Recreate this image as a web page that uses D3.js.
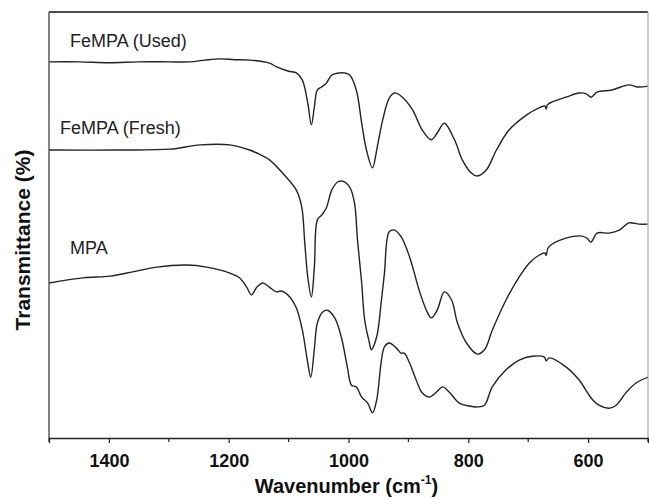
<!DOCTYPE html>
<html>
<head>
<meta charset="utf-8">
<script src="https://cdn.jsdelivr.net/npm/d3@7"></script>
<style>
body { margin: 0; background: #fff; }
svg { display: block; font-family: "Liberation Sans", Arial, sans-serif; }
</style>
</head>
<body>
<svg id="chart" width="649" height="500"></svg>
<script>
var width = 649;
var height = 500;

// spectra (wavenumber, transmittance in arbitrary %)
var usedWave = [1500, 1450, 1400, 1350, 1300, 1265, 1240, 1215, 1190, 1165, 1132, 1120, 1100, 1087, 1077, 1068, 1062, 1057, 1052, 1045, 1037, 1028, 1015, 1007, 998, 987, 978, 970, 960, 952, 943, 932, 923, 910, 893, 877, 862, 852, 840, 823, 810, 795, 785, 770, 753, 732, 703, 682, 672, 670, 668, 660, 637, 615, 603, 595, 585, 560, 532, 518, 500];
var usedT = [88.3, 88.3, 88.1, 88.3, 88.3, 88.3, 88.7, 89.0, 88.8, 88.7, 88.0, 87.1, 86.1, 85.7, 84.0, 78.6, 73.5, 77.7, 81.7, 82.4, 83.3, 85.2, 85.7, 85.7, 85.2, 81.7, 73.9, 67.6, 63.4, 68.3, 74.6, 79.8, 81.0, 80.0, 77.0, 72.3, 70.0, 71.6, 73.9, 70.0, 65.3, 62.2, 61.5, 62.9, 67.6, 72.3, 75.8, 77.5, 77.9, 77.2, 78.2, 78.9, 80.0, 81.0, 80.8, 80.0, 81.2, 81.7, 82.9, 82.4, 82.6];

var freshWave = [1500, 1382, 1298, 1248, 1198, 1165, 1153, 1132, 1110, 1087, 1078, 1073, 1068, 1062, 1057, 1052, 1045, 1037, 1028, 1018, 1010, 998, 990, 985, 978, 973, 965, 962, 953, 945, 940, 932, 923, 912, 898, 882, 870, 862, 852, 840, 828, 818, 803, 785, 773, 760, 737, 715, 698, 682, 672, 670, 666, 637, 610, 602, 595, 585, 565, 548, 532, 515, 500];
var freshT = [67.6, 67.6, 67.8, 68.8, 68.8, 67.6, 66.9, 65.3, 62.2, 58.2, 54.2, 45.8, 37.8, 33.1, 40.1, 51.2, 52.3, 54.0, 58.2, 60.1, 60.3, 58.9, 55.2, 46.5, 36.4, 27.7, 22.3, 20.7, 23.7, 32.4, 38.7, 48.4, 48.8, 47.2, 42.5, 34.7, 30.0, 28.2, 30.0, 34.3, 32.4, 27.0, 22.3, 19.7, 20.7, 25.3, 32.4, 37.8, 41.1, 42.9, 43.4, 42.9, 44.8, 46.9, 47.4, 46.9, 46.0, 48.1, 48.1, 48.8, 50.5, 50.2, 50.2];

var mpaWave = [1500, 1443, 1398, 1360, 1320, 1270, 1237, 1198, 1182, 1170, 1162, 1153, 1143, 1132, 1120, 1112, 1098, 1087, 1077, 1068, 1063, 1057, 1052, 1043, 1035, 1023, 1012, 1002, 995, 987, 978, 968, 960, 953, 945, 940, 932, 920, 912, 907, 898, 887, 877, 865, 853, 843, 832, 815, 798, 785, 773, 760, 737, 715, 693, 673, 670, 665, 637, 615, 595, 582, 565, 553, 537, 520, 500];
var mpaT = [36.4, 37.6, 38.0, 39.0, 40.1, 40.6, 40.1, 38.7, 37.6, 35.4, 33.6, 35.4, 36.4, 35.4, 34.3, 34.5, 33.1, 30.5, 25.3, 17.6, 14.3, 20.9, 27.0, 29.6, 30.0, 28.2, 23.7, 16.7, 12.4, 12.0, 9.6, 8.2, 5.9, 8.9, 18.3, 21.4, 22.3, 21.1, 19.9, 19.9, 17.6, 13.6, 10.6, 9.6, 10.8, 12.0, 10.8, 8.2, 7.5, 7.3, 7.7, 12.0, 16.0, 18.3, 19.2, 19.0, 18.1, 18.8, 16.7, 13.6, 9.4, 7.7, 7.0, 7.7, 10.6, 12.9, 14.3];

var seriesNames = ["FeMPA (Used)", "FeMPA (Fresh)", "MPA"];
var majorTicks = [1400, 1200, 1000, 800, 600];
var minorTicks = [1500, 1300, 1100, 900, 700, 500];

var margin = {top: 12, right: 1, bottom: 62, left: 49};
var plotW = width - margin.left - margin.right;
var plotH = height - margin.top - margin.bottom;

var svg = d3.select('#chart');
var g = svg.append('g').attr('transform', 'translate(' + margin.left + ',' + margin.top + ')');

var x = d3.scaleLinear().domain([1500, 500]).range([0, plotW]);
var y = d3.scaleLinear().domain([0, 100]).range([plotH, 0]);

function toPoints(w, t) {
	return w.map(function(d, i) { return [d, t[i]]; });
}
var series = [toPoints(usedWave, usedT), toPoints(freshWave, freshT), toPoints(mpaWave, mpaT)];

var line = d3.line()
	.x(function(d) { return x(d[0]); })
	.y(function(d) { return y(d[1]); })
	.curve(d3.curveCatmullRom.alpha(0.5));

g.append('defs').append('clipPath').attr('id', 'clip')
	.append('rect').attr('width', plotW).attr('height', plotH);

g.selectAll('path.spec').data(series).enter().append('path')
	.attr('class', 'spec')
	.attr('clip-path', 'url(#clip)')
	.attr('d', line)
	.attr('fill', 'none')
	.attr('stroke', '#222')
	.attr('stroke-width', 1.4)
	.attr('stroke-linejoin', 'round');

// frame
g.append('line').attr('x1', 0).attr('x2', plotW).attr('y1', 0).attr('y2', 0)
	.attr('stroke', '#111').attr('stroke-width', 1.5);
g.append('line').attr('x1', plotW).attr('x2', plotW).attr('y1', 0).attr('y2', plotH)
	.attr('stroke', '#aaa').attr('stroke-width', 1.2);
g.append('line').attr('x1', 0).attr('x2', 0).attr('y1', 0).attr('y2', plotH)
	.attr('stroke', '#333').attr('stroke-width', 1.2);

// bottom axis
var xAxis = g.append('g').attr('transform', 'translate(0,' + plotH + ')')
	.call(d3.axisBottom(x).tickValues(majorTicks).tickSize(5).tickFormat(d3.format('d')));
xAxis.select('.domain').attr('stroke', '#222').attr('stroke-width', 1.3);
xAxis.selectAll('.tick line').attr('stroke', '#222').attr('stroke-width', 1.2);
xAxis.selectAll('text')
	.attr('y', 29).attr('dy', null)
	.attr('font-size', 18).attr('font-weight', 'bold')
	.attr('font-family', '"Liberation Sans", Arial, sans-serif')
	.attr('fill', '#111');

g.append('g').attr('transform', 'translate(0,' + plotH + ')')
	.selectAll('line').data(minorTicks).enter().append('line')
	.attr('x1', function(d) { return x(d); }).attr('x2', function(d) { return x(d); })
	.attr('y1', 0).attr('y2', 4)
	.attr('stroke', '#222').attr('stroke-width', 1.2);

// axis titles
var xt = svg.append('text')
	.attr('x', margin.left + plotW / 2 - 2).attr('y', 493)
	.attr('text-anchor', 'middle')
	.attr('font-size', 20).attr('font-weight', 'bold').attr('fill', '#111');
xt.append('tspan').text('Wavenumber (cm');
xt.append('tspan').attr('font-size', 12).attr('dy', -9).text('-1');
xt.append('tspan').attr('dy', 9).text(')');

svg.append('text')
	.attr('transform', 'translate(30,240) rotate(-90)')
	.attr('text-anchor', 'middle')
	.attr('font-size', 21).attr('font-weight', 'bold').attr('fill', '#111')
	.text('Transmittance (%)');

// curve labels
var labelX = [70, 60, 70];
var labelY = [47, 134, 254];
svg.selectAll('text.lab').data(seriesNames).enter().append('text')
	.attr('class', 'lab')
	.attr('x', function(d, i) { return labelX[i]; })
	.attr('y', function(d, i) { return labelY[i]; })
	.attr('font-size', 18).attr('fill', '#222')
	.text(function(d) { return d; });
</script>
</body>
</html>
